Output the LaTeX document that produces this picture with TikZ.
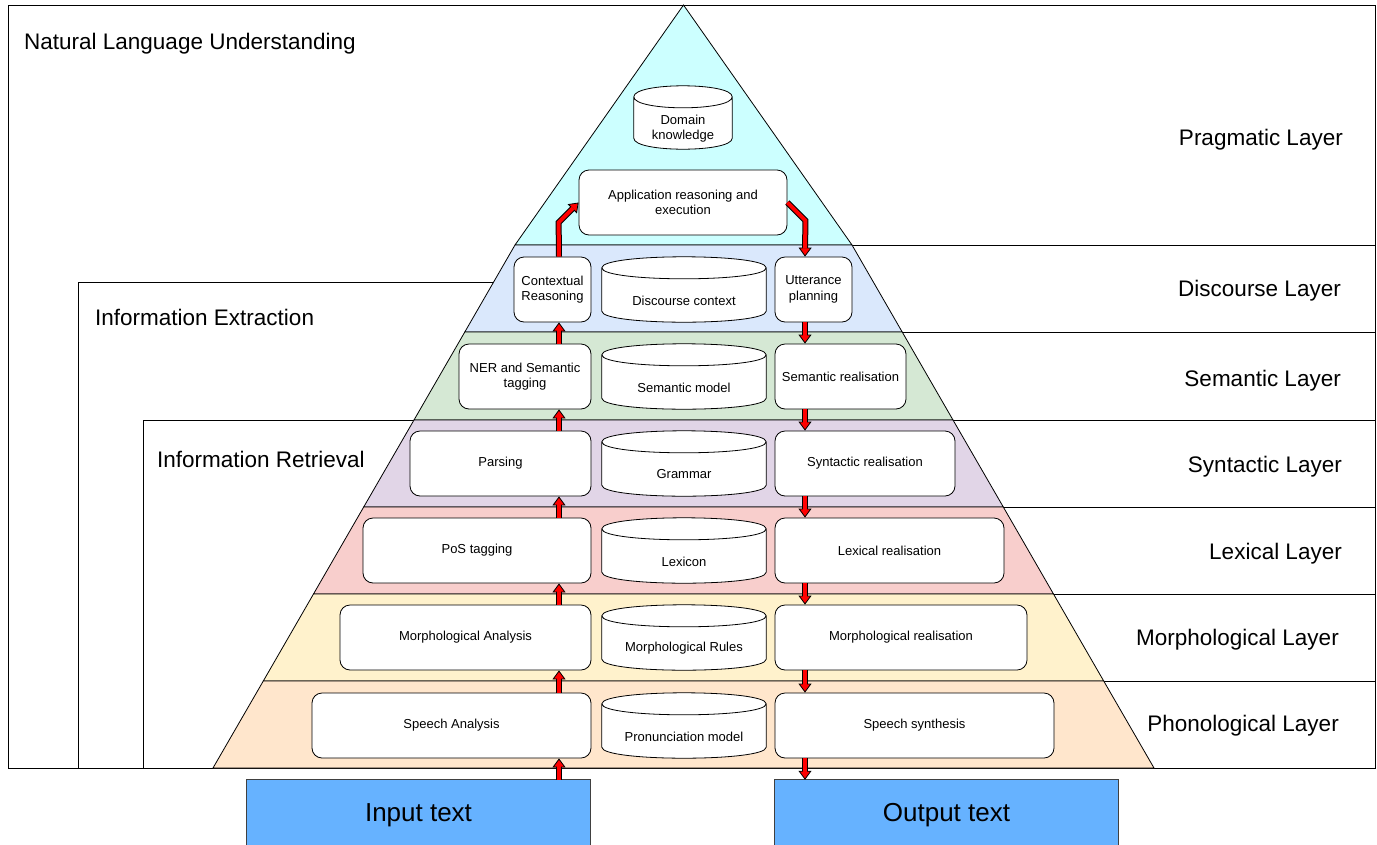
\documentclass[tikz,border=0pt]{standalone}
\usepackage{fontspec}
\setmainfont{Liberation Sans}
\usetikzlibrary{arrows.meta,calc}
\pgfdeclarelayer{back}
\pgfdeclarelayer{mid}
\pgfsetlayers{back,mid,main}
\definecolor{cPrag}{HTML}{CCFFFF}
\definecolor{cDisc}{HTML}{DAE8FC}
\definecolor{cSem}{HTML}{D5E8D4}
\definecolor{cSyn}{HTML}{E1D5E7}
\definecolor{cLex}{HTML}{F8CECC}
\definecolor{cMor}{HTML}{FFF2CC}
\definecolor{cPho}{HTML}{FFE6CC}
\definecolor{cIO}{HTML}{66B2FF}
\newcommand\boxfont{\fontsize{13}{15.5}\selectfont}
\newcommand\bigfont{\fontsize{22.5}{27}\selectfont}
\newcommand\iofont{\fontsize{26}{31}\selectfont}
\newcommand\drawcyl[1]{%
\begin{pgfonlayer}{mid}
\path[cylshape] let \p1=(#1.north west), \p2=(#1.south east) in
 (\x1,\y1+11pt) -- (\x1,\y2+11pt) .. controls (\x1,\y2-3.667pt) and (\x2,\y2-3.667pt) .. (\x2,\y2+11pt)
 -- (\x2,\y1+11pt) .. controls (\x2,\y1+25.667pt) and (\x1,\y1+25.667pt) .. cycle
 (\x1,\y1+11pt) .. controls (\x1,\y1-3.667pt) and (\x2,\y1-3.667pt) .. (\x2,\y1+11pt);
\end{pgfonlayer}}
\newcommand\drawio[1]{%
\begin{pgfonlayer}{mid}
\draw[ioshape] (#1.north west) rectangle ($(#1.south east)+(0,12)$);
\end{pgfonlayer}}
\newcommand\flex[1]{\draw[flexout] #1; \draw[flexin] #1;}
\begin{document}
\begin{tikzpicture}[x=1pt,y=-1pt,
 box/.style={draw=black, fill=white, rounded corners=10pt, line width=0.8pt, minimum height=65pt, inner sep=2pt, align=center, font=\boxfont},
 cyl/.style={inner sep=0pt, minimum width=164pt, minimum height=43pt, align=center, font=\boxfont},
 cylshape/.style={draw=black, fill=white, line width=0.8pt},
 layer/.style={draw=black, line width=0.8pt},
 frame/.style={draw=black, fill=white, line width=0.8pt},
 layerlbl/.style={anchor=east, inner sep=0pt, font=\bigfont},
 framelbl/.style={anchor=west, inner sep=0pt, font=\bigfont},
 io/.style={inner sep=0pt, minimum width=343pt, minimum height=70pt, font=\iofont},
 ioshape/.style={draw=black!75, fill=cIO, line width=0.8pt},
 flexout/.style={draw=black, line width=6pt, line join=miter, -{Triangle[length=9pt,width=13pt,fill=red,line width=0.8pt]}},
 flexin/.style={draw=red, line width=4pt, line join=miter, shorten >=8pt}]
\useasboundingbox (0,0) rectangle (1377,844);

\begin{pgfonlayer}{back}
% frames
\draw[frame] (8,5) rectangle (1000,768);
\draw[frame] (78,282) rectangle (700,768);
\draw[frame] (143,420) rectangle (700,768);
% layer label rows
\draw[frame] (683,5) rectangle (1375,245);
\draw[frame] (683,245) rectangle (1375,332);
\draw[frame] (683,332) rectangle (1375,420);
\draw[frame] (683,420) rectangle (1375,507);
\draw[frame] (683,507) rectangle (1375,594);
\draw[frame] (683,594) rectangle (1375,681);
\draw[frame] (683,681) rectangle (1375,768);
% pyramid
\draw[layer, fill=cPrag] (683.5,5) -- (852,245) -- (515,245) -- cycle;
\draw[layer, fill=cDisc] (515,245) -- (852,245) -- (902.2,332) -- (464.8,332) -- cycle;
\draw[layer, fill=cSem] (464.8,332) -- (902.2,332) -- (953,420) -- (414,420) -- cycle;
\draw[layer, fill=cSyn] (414,420) -- (953,420) -- (1003.3,507) -- (363.7,507) -- cycle;
\draw[layer, fill=cLex] (363.7,507) -- (1003.3,507) -- (1053.5,594) -- (313.5,594) -- cycle;
\draw[layer, fill=cMor] (313.5,594) -- (1053.5,594) -- (1103.7,681) -- (263.3,681) -- cycle;
\draw[layer, fill=cPho] (263.3,681) -- (1103.7,681) -- (1154,768) -- (213,768) -- cycle;
\end{pgfonlayer}

% frame labels
\node[framelbl] (lnlu) at (24,44) {Natural Language Understanding};
\node[framelbl] (lie) at (95,317) {Information Extraction};
\node[framelbl] (lir) at (157,459) {Information Retrieval};

% layer labels
\node[layerlbl] (lprag) at (1343,139.5) {Pragmatic Layer};
\node[layerlbl] (ldisc) at (1341,290.5) {Discourse Layer};
\node[layerlbl] (lsem) at (1341,380.5) {Semantic Layer};
\node[layerlbl] (lsyn) at (1342,466.5) {Syntactic Layer};
\node[layerlbl] (llex) at (1342,553.5) {Lexical Layer};
\node[layerlbl] (lmor) at (1339,639.5) {Morphological Layer};
\node[layerlbl] (lpho) at (1339,725.5) {Phonological Layer};

% pragmatic
\node[cyl, minimum width=98pt, minimum height=41pt] (dk) at (683,128.5) {Domain\\knowledge};
\drawcyl{dk}
\node[box, minimum width=208pt] (app) at (683,202.5) {Application reasoning and\\execution};
% discourse
\node[box, minimum width=77pt] (cr) at (552.5,289.5) {Contextual\\Reasoning};
\node[cyl] (dc) at (684,300.5) {Discourse context};
\drawcyl{dc}
\node[box, minimum width=77pt] (un) at (813.5,289.5) {Utterance\\planning};
% semantic
\node[box, minimum width=132pt] (ner) at (525,376.5) {NER and Semantic\\tagging};
\node[cyl] (sm) at (684,387.5) {Semantic model};
\drawcyl{sm}
\node[box, minimum width=131pt] (sr) at (840.5,376.5) {Semantic realisation};
% syntactic
\node[box, minimum width=181pt] (pa) at (500.5,463.5) {Parsing};
\node[cyl] (gr) at (684,474.5) {Grammar};
\drawcyl{gr}
\node[box, minimum width=180pt] (syr) at (865,463.5) {Syntactic realisation};
% lexical
\node[box, minimum width=228pt] (pos) at (477,550.5) {PoS tagging};
\node[cyl] (lx) at (684,561.5) {Lexicon};
\drawcyl{lx}
\node[box, minimum width=229pt] (lr) at (889.5,550.5) {Lexical realisation};
% morphological
\node[box, minimum width=251pt] (ma) at (465.5,637.5) {Morphological Analysis};
\node[cyl] (mr) at (684,648.5) {Morphological Rules};
\drawcyl{mr}
\node[box, minimum width=252pt] (mre) at (901,637.5) {Morphological realisation};
% phonological
\node[box, minimum width=279pt] (sa) at (451.5,725.5) {Speech Analysis};
\node[cyl] (pm) at (684,736.5) {Pronunciation model};
\drawcyl{pm}
\node[box, minimum width=279pt] (ss) at (914.5,725.5) {Speech synthesis};

% input / output
\node[io] (in) at (418.5,815) {Input text};
\drawio{in}
\node[io] (out) at (946.5,815) {Output text};
\drawio{out}

% arrows
\coordinate (upx) at (559,0);
\coordinate (downx) at (805,0);
\flex{(in.north -| upx) -- (sa.south -| upx)}
\flex{(sa.north -| upx) -- (ma.south -| upx)}
\flex{(ma.north -| upx) -- (pos.south -| upx)}
\flex{(pos.north -| upx) -- (pa.south -| upx)}
\flex{(pa.north -| upx) -- (ner.south -| upx)}
\flex{(ner.north -| upx) -- (cr.south -| upx)}
\flex{(cr.north -| upx) -- ($(app.west)+(-20,20)$) -- (app.west)}
\flex{(app.east) -- ($(app.east)+(18,18)$) -- (un.north -| downx)}
\flex{(un.south -| downx) -- (sr.north -| downx)}
\flex{(sr.south -| downx) -- (syr.north -| downx)}
\flex{(syr.south -| downx) -- (lr.north -| downx)}
\flex{(lr.south -| downx) -- (mre.north -| downx)}
\flex{(mre.south -| downx) -- (ss.north -| downx)}
\flex{(ss.south -| downx) -- (out.north -| downx)}
\end{tikzpicture}
\end{document}
